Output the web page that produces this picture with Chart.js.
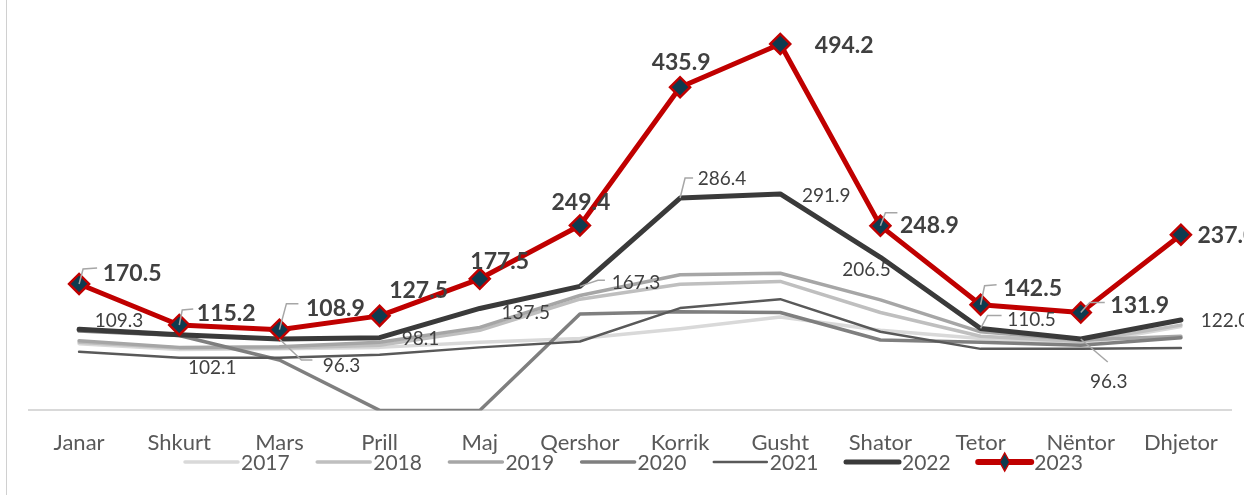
<!DOCTYPE html>
<html lang="sq">
<head>
<meta charset="UTF-8">
<title>Chart</title>
<style>
  html, body { margin: 0; padding: 0; background: #fff; }
  #wrap { position: relative; width: 1244px; height: 495px; overflow: hidden; }
  #edge { position: absolute; left: 6px; top: 0; width: 1px; height: 495px; background: #d0d0d0; }
</style>
</head>
<body>
<div id="wrap">
  <div id="edge"></div>
  <canvas id="myChart"></canvas>
</div>

<script src="https://cdn.jsdelivr.net/npm/chart.js"></script>
<script>
// categories and series
const months = ['Janar', 'Shkurt', 'Mars', 'Prill', 'Maj', 'Qershor', 'Korrik', 'Gusht', 'Shator', 'Tetor', 'Nëntor', 'Dhjetor'];
const years = ['2017', '2018', '2019', '2020', '2021', '2022', '2023'];

const v2017 = [90, 82, 83, 85, 92, 97, 110, 126, 108, 97, 90, 113];
const v2018 = [92, 84, 84, 88, 108, 150, 170, 174, 132, 100, 93, 115];
const v2019 = [94, 85, 86, 92, 112, 155, 183, 185, 149, 106, 95, 100];
const v2020 = [107, 101, 68, 0, 0, 130, 133, 132, 95, 92, 88, 98];
const v2021 = [79, 71, 71, 75, 85, 93, 138, 150, 106, 83, 83, 84];
const v2022 = [109.3, 102.1, 96.3, 98.1, 137.5, 167.3, 286.4, 291.9, 206.5, 110.5, 96.3, 122.0];
const v2023 = [170.5, 115.2, 108.9, 127.5, 177.5, 249.4, 435.9, 494.2, 248.9, 142.5, 131.9, 237.0];

const colors = ['#d9d9d9', '#bfbfbf', '#a6a6a6', '#7f7f7f', '#595959', '#3a3a3a', '#c00000'];
const widths = [3.5, 3.5, 3.5, 3.5, 2.5, 5, 5];

// label offsets from the point: [dx, dy, leader polyline or null]
const pos2022 = [
  [40, -8, null], [33, 33, null], [62, 27, [[0, 0], [22, 21], [33, 21]]], [41, 1, null],
  [46, 4, null], [56, -3, [[0, 0], [18, -6], [25, -6]]], [42, -19, [[0, 0], [5, -20], [13, -20]]],
  [46, 2, null], [-14, 13, null], [51, -9, [[0, 0], [7, -13], [21, -13]]],
  [28, 43, [[0, 0], [27, 23]]], [44, 1, null]
];
const pos2023 = [
  [53, -10, [[0, 0], [4, -15], [18, -16]]], [47, -11, [[0, 0], [3, -15], [14, -16]]],
  [56, -21, [[0, 0], [7, -26], [19, -26]]], [39, -25, null], [20, -17, null], [1, -23, null],
  [1, -25, null], [64, 2, null], [49, 0, [[0, 0], [5, -13], [17, -13]]],
  [52, -16, [[0, 0], [4, -19], [16, -20]]], [59, -7, [[0, 0], [9, -10], [24, -10]]], [46, 1, null]
];

const series = [v2017, v2018, v2019, v2020, v2021, v2022, v2023];

const datasets = series.map((vals, i) => {
  const ds = {
    label: years[i],
    data: vals,
    borderColor: colors[i],
    backgroundColor: colors[i],
    borderWidth: widths[i],
    borderCapStyle: 'round',
    borderJoinStyle: 'round',
    tension: 0,
    pointRadius: 0,
    pointHoverRadius: 0,
    order: 6 - i
  };
  if (i === 6) {
    ds.pointStyle = 'rectRot';
    ds.pointRadius = 10;
    ds.pointBackgroundColor = '#0e3b4f';
    ds.pointBorderColor = '#c00000';
    ds.pointBorderWidth = 2.5;
  }
  return ds;
});

const valueLabels = {
  id: 'valueLabels',
  afterDatasetsDraw(chart) {
    const ctx = chart.ctx;
    const jobs = [
      { idx: 5, pos: pos2022, font: '19px Lato' },
      { idx: 6, pos: pos2023, font: 'bold 23px Lato' }
    ];
    ctx.save();
    jobs.forEach(job => {
      const meta = chart.getDatasetMeta(job.idx);
      const vals = chart.data.datasets[job.idx].data;
      meta.data.forEach((pt, k) => {
        const p = job.pos[k];
        if (p[2]) {
          ctx.beginPath();
          ctx.strokeStyle = '#a6a6a6';
          ctx.lineWidth = 1.5;
          p[2].forEach((q, n) => {
            if (n === 0) ctx.moveTo(pt.x + q[0], pt.y + q[1]);
            else ctx.lineTo(pt.x + q[0], pt.y + q[1]);
          });
          ctx.stroke();
        }
        ctx.font = job.font;
        ctx.fillStyle = '#404040';
        ctx.textAlign = 'center';
        ctx.textBaseline = 'middle';
        ctx.fillText(vals[k].toFixed(1), pt.x + p[0], pt.y + p[1]);
      });
    });
    ctx.restore();
  }
};

const lineLegend = {
  id: 'lineLegend',
  afterDraw(chart) {
    const ctx = chart.ctx;
    const y = 462;
    ctx.save();
    years.forEach((yr, i) => {
      const x0 = 185 + 132.2 * i;
      ctx.beginPath();
      ctx.strokeStyle = colors[i];
      ctx.lineWidth = widths[i] + (i === 6 ? 1 : 0);
      ctx.lineCap = 'round';
      ctx.moveTo(x0, y);
      ctx.lineTo(x0 + 53, y);
      ctx.stroke();
      if (i === 6) {
        const cx = x0 + 26.5;
        ctx.beginPath();
        ctx.moveTo(cx, y - 9);
        ctx.lineTo(cx + 5, y);
        ctx.lineTo(cx, y + 9);
        ctx.lineTo(cx - 5, y);
        ctx.closePath();
        ctx.fillStyle = '#0e3b4f';
        ctx.fill();
        ctx.strokeStyle = '#c00000';
        ctx.lineWidth = 1.5;
        ctx.stroke();
      }
      ctx.font = '21px Lato';
      ctx.fillStyle = '#595959';
      ctx.textAlign = 'left';
      ctx.textBaseline = 'middle';
      ctx.fillText(yr, x0 + 56, y + 1);
    });
    ctx.restore();
  }
};

const ctx = document.getElementById('myChart');
new Chart(ctx, {
  type: 'line',
  data: { labels: months, datasets: datasets },
  options: {
    responsive: true,
    maintainAspectRatio: false,
    animation: false,
    events: [],
    layout: { autoPadding: false, padding: { left: 29, right: 13, top: 2.6, bottom: 0 } },
    plugins: { legend: { display: false }, tooltip: { enabled: false } },
    scales: {
      x: {
        offset: true,
        grid: { display: false, drawTicks: false },
        border: { display: true, color: '#d9d9d9', width: 2 },
        ticks: { color: '#595959', font: { family: 'Lato', size: 22 }, padding: 19, maxRotation: 0, autoSkip: false },
        afterFit(scale) { scale.height = 84.6; }
      },
      y: {
        display: false,
        min: 0,
        max: 550
      }
    }
  },
  plugins: [valueLabels, lineLegend]
});
</script>
</body>
</html>
